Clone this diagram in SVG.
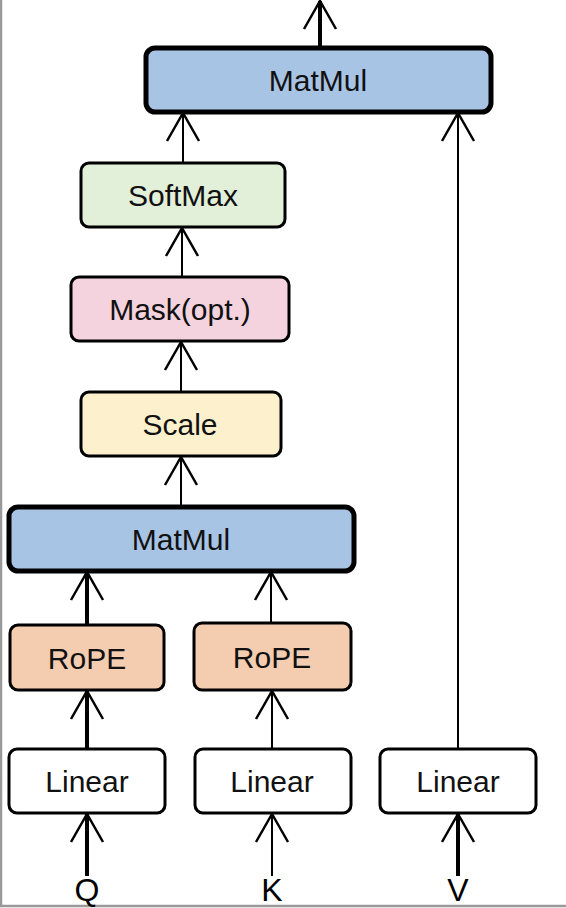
<svg xmlns="http://www.w3.org/2000/svg" width="566" height="908" viewBox="0 0 566 908">
<defs>
<style>
.box{stroke:#000;stroke-width:3}
.thick{stroke-width:5}
.lbl{font-family:"Liberation Sans",Arial,sans-serif;font-size:30px;fill:#111;text-anchor:middle}
.io{font-family:"Liberation Sans",Arial,sans-serif;font-size:32px;fill:#000;text-anchor:middle}
.ln{stroke:#000;fill:none}
.w4{stroke-width:4}
.w2{stroke-width:2}
</style>
<marker id="ah" markerUnits="userSpaceOnUse" orient="auto" refX="0" refY="0" markerWidth="40" markerHeight="40" viewBox="-30 -20 32 40" overflow="visible">
<path d="M -28 -16 L 0 0 L -28 16" fill="none" stroke="#000" stroke-width="2.5"/>
</marker>
</defs>
<rect width="566" height="908" fill="#fff"/>
<path d="M1 0 V906 H566" fill="none" stroke="#999" stroke-width="2.5"/>
<g id="connectors">
<line class="ln w4" x1="320" y1="47" x2="320" y2="1" marker-end="url(#ah)"/>
<line class="ln w2" x1="183" y1="162" x2="183" y2="113" marker-end="url(#ah)"/>
<line class="ln w2" x1="182" y1="276" x2="182" y2="228" marker-end="url(#ah)"/>
<line class="ln w2" x1="181" y1="392" x2="181" y2="342" marker-end="url(#ah)"/>
<line class="ln w2" x1="181" y1="506" x2="181" y2="457" marker-end="url(#ah)"/>
<line class="ln w4" x1="87" y1="624" x2="87" y2="572" marker-end="url(#ah)"/>
<line class="ln w2" x1="271" y1="623" x2="271" y2="572" marker-end="url(#ah)"/>
<line class="ln w4" x1="87" y1="748" x2="87" y2="691" marker-end="url(#ah)"/>
<line class="ln w2" x1="272" y1="748" x2="272" y2="691" marker-end="url(#ah)"/>
<line class="ln w2" x1="458" y1="748" x2="458" y2="113" marker-end="url(#ah)"/>
<line class="ln w4" x1="87" y1="876" x2="87" y2="814" marker-end="url(#ah)"/>
<line class="ln w2" x1="272" y1="876" x2="272" y2="814" marker-end="url(#ah)"/>
<line class="ln w4" x1="458" y1="876" x2="458" y2="814" marker-end="url(#ah)"/>
</g>
<g id="matmul2"><rect class="box thick" x="146" y="48" width="345" height="64" rx="9" fill="#a8c4e5"/><text class="lbl" x="318" y="91">MatMul</text></g>
<g id="softmax"><rect class="box" x="81" y="163" width="204" height="64" rx="8" fill="#e2efd9"/><text class="lbl" x="183" y="206">SoftMax</text></g>
<g id="mask"><rect class="box" x="71" y="277" width="218" height="64" rx="8" fill="#f4d3de"/><text class="lbl" x="180" y="320">Mask(opt.)</text></g>
<g id="scale"><rect class="box" x="81" y="392" width="200" height="64" rx="8" fill="#fdf1cd"/><text class="lbl" x="180" y="435">Scale</text></g>
<g id="matmul1"><rect class="box thick" x="9" y="507" width="345" height="64" rx="9" fill="#a8c4e5"/><text class="lbl" x="181" y="550">MatMul</text></g>
<g id="rope_q"><rect class="box" x="10" y="625" width="154" height="65" rx="8" fill="#f4cdb0"/><text class="lbl" x="87" y="669">RoPE</text></g>
<g id="rope_k"><rect class="box" x="194" y="623" width="157" height="67" rx="8" fill="#f4cdb0"/><text class="lbl" x="272" y="668">RoPE</text></g>
<g id="linear_q"><rect class="box" x="9" y="749" width="156" height="64" rx="8" fill="#fff"/><text class="lbl" x="87" y="792">Linear</text></g>
<g id="linear_k"><rect class="box" x="195" y="749" width="156" height="64" rx="8" fill="#fff"/><text class="lbl" x="272" y="792">Linear</text></g>
<g id="linear_v"><rect class="box" x="380" y="749" width="156" height="64" rx="8" fill="#fff"/><text class="lbl" x="458" y="792">Linear</text></g>
<g id="inputs"><text class="io" x="87" y="901">Q</text><text class="io" x="272" y="901">K</text><text class="io" x="458" y="901">V</text></g>
</svg>
